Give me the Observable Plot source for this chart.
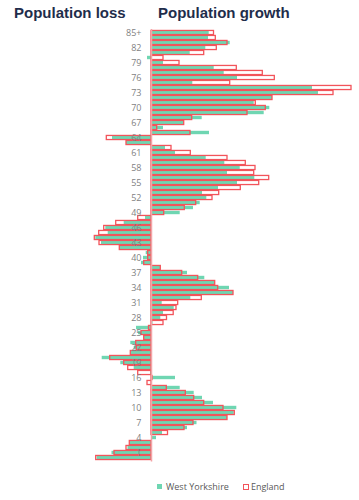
<!DOCTYPE html>
<html>
<head>
<meta charset="utf-8">
<script src="https://cdn.jsdelivr.net/npm/d3@7"></script>
<script src="https://cdn.jsdelivr.net/npm/@observablehq/plot@0.6"></script>
<style>
  html, body { margin: 0; padding: 0; background: #fff; }
  #wrap { position: relative; width: 359px; height: 500px; overflow: hidden; }
  .title { position: absolute; top: 4px; font-family: "Liberation Sans", Arial, sans-serif; font-weight: bold; font-size: 15px; color: #1f2d4b; white-space: nowrap; }
  #chart { position: absolute; left: 0; top: 26px; }
  #legend { position: absolute; top: 480px; left: 157px; font-family: "Open Sans", sans-serif; font-size: 9px; color: #595959; white-space: nowrap; display: flex; align-items: center; }
  .sw { display: inline-block; width: 5px; height: 5px; margin-right: 4px; }
</style>
</head>
<body>
<div id="wrap">
  <div class="title" style="left:14px">Population loss</div>
  <div class="title" style="left:158px">Population growth</div>
  <div id="chart"></div>
  <div id="legend"></div>
</div>
<script>
// Ages 0 .. 85+ (bottom to top)
const ageLabels = Array.from({length: 85}, (_, i) => String(i)).concat(["85+"]);
const tickLabels = ["1","4","7","10","13","16","19","22","25","28","31","34","37","40","43","46","49","52","55","58","61","64","67","70","73","76","79","82","85+"];
const seriesNames = ["West Yorkshire", "England"];
const westYorkshire = [-54.3,-39.5,-23.5,-21,5,11,36,45.5,76,82.7,85.3,62,51,42.7,28.7,0,24,-1,-17.3,-30.7,-49.3,-20,-17.3,-20.7,-7.3,-13,-15,1.5,9.3,12,22.7,10.7,39.3,82,78,63.7,53.3,36,9.3,-10,-8,-5.3,-31.3,-50,-55.7,-43.3,-45.7,-27.3,-6,28.7,42,48.7,55.3,51,67,86,103.3,76,88.7,73.3,54.7,24,14,-25,-39,58,12,32,50.7,112.7,118.3,102.7,121,167,161,41.3,86,72.7,62.7,12,-4,38.7,54.3,78.7,57,57.7];
const england = [-55.3,-37,-25,-21.7,0,16.5,33,42,76,83.3,72,52.7,42.7,34.3,15.3,-4,1,-13.3,-23.3,-27.3,-41.3,-20.7,-14.7,-15.3,-7.3,-10,-2.5,12,15.5,22.2,25,26.7,50.3,82,66.7,63.7,46.7,30.7,9.3,-7.3,-3.3,-3.3,-31.7,-52,-56.7,-52.3,-47.3,-35.3,-13.3,12.7,33.3,44.7,61,67.7,89.3,107.7,117.7,102.7,104,94.3,76,39.3,20,-25,-44.7,39,5.7,32.7,40.7,96,114.3,104.3,121,182,200,78.7,123.3,111.3,85.3,28,12,52.7,65.3,76,64.3,62.5];

const green = "#6fd6b2";
const red = "#f2545b";

const rows = ageLabels.map((a, i) => ({age: a, wy: westYorkshire[i], eng: england[i]}));

const chart = Plot.plot({
  width: 359,
  height: 440,
  marginTop: 3,
  marginBottom: 4.5,
  marginLeft: 91,
  marginRight: 3,
  x: {domain: [-60, 205], axis: null},
  y: {domain: ageLabels.slice().reverse(), type: "band", padding: 0, axis: null},
  marks: [
    Plot.barX(rows, {y: "age", x: "wy", fill: green, insetTop: 0.8, insetBottom: 0.8}),
    Plot.barX(rows, {y: "age", x: "eng", fill: "none", stroke: red, strokeWidth: 1.3, insetTop: 0.45, insetBottom: 0.45}),
    Plot.ruleX([0], {stroke: "#f3a3a6", strokeWidth: 1.5}),
    Plot.text(tickLabels, {x: 0, y: d => d, text: d => d, dx: -10, textAnchor: "end", fill: "#7f7f7f", fontSize: 9, fontFamily: "Open Sans"})
  ]
});
document.getElementById("chart").appendChild(chart);

const lg = document.getElementById("legend");
lg.innerHTML =
  `<span class="sw" style="background:${green}"></span><span style="margin-right:14px">${seriesNames[0]}</span>` +
  `<span class="sw" style="width:4px;height:4px;border:1.3px solid ${red};margin-right:2px"></span><span>${seriesNames[1]}</span>`;
</script>
</body>
</html>
